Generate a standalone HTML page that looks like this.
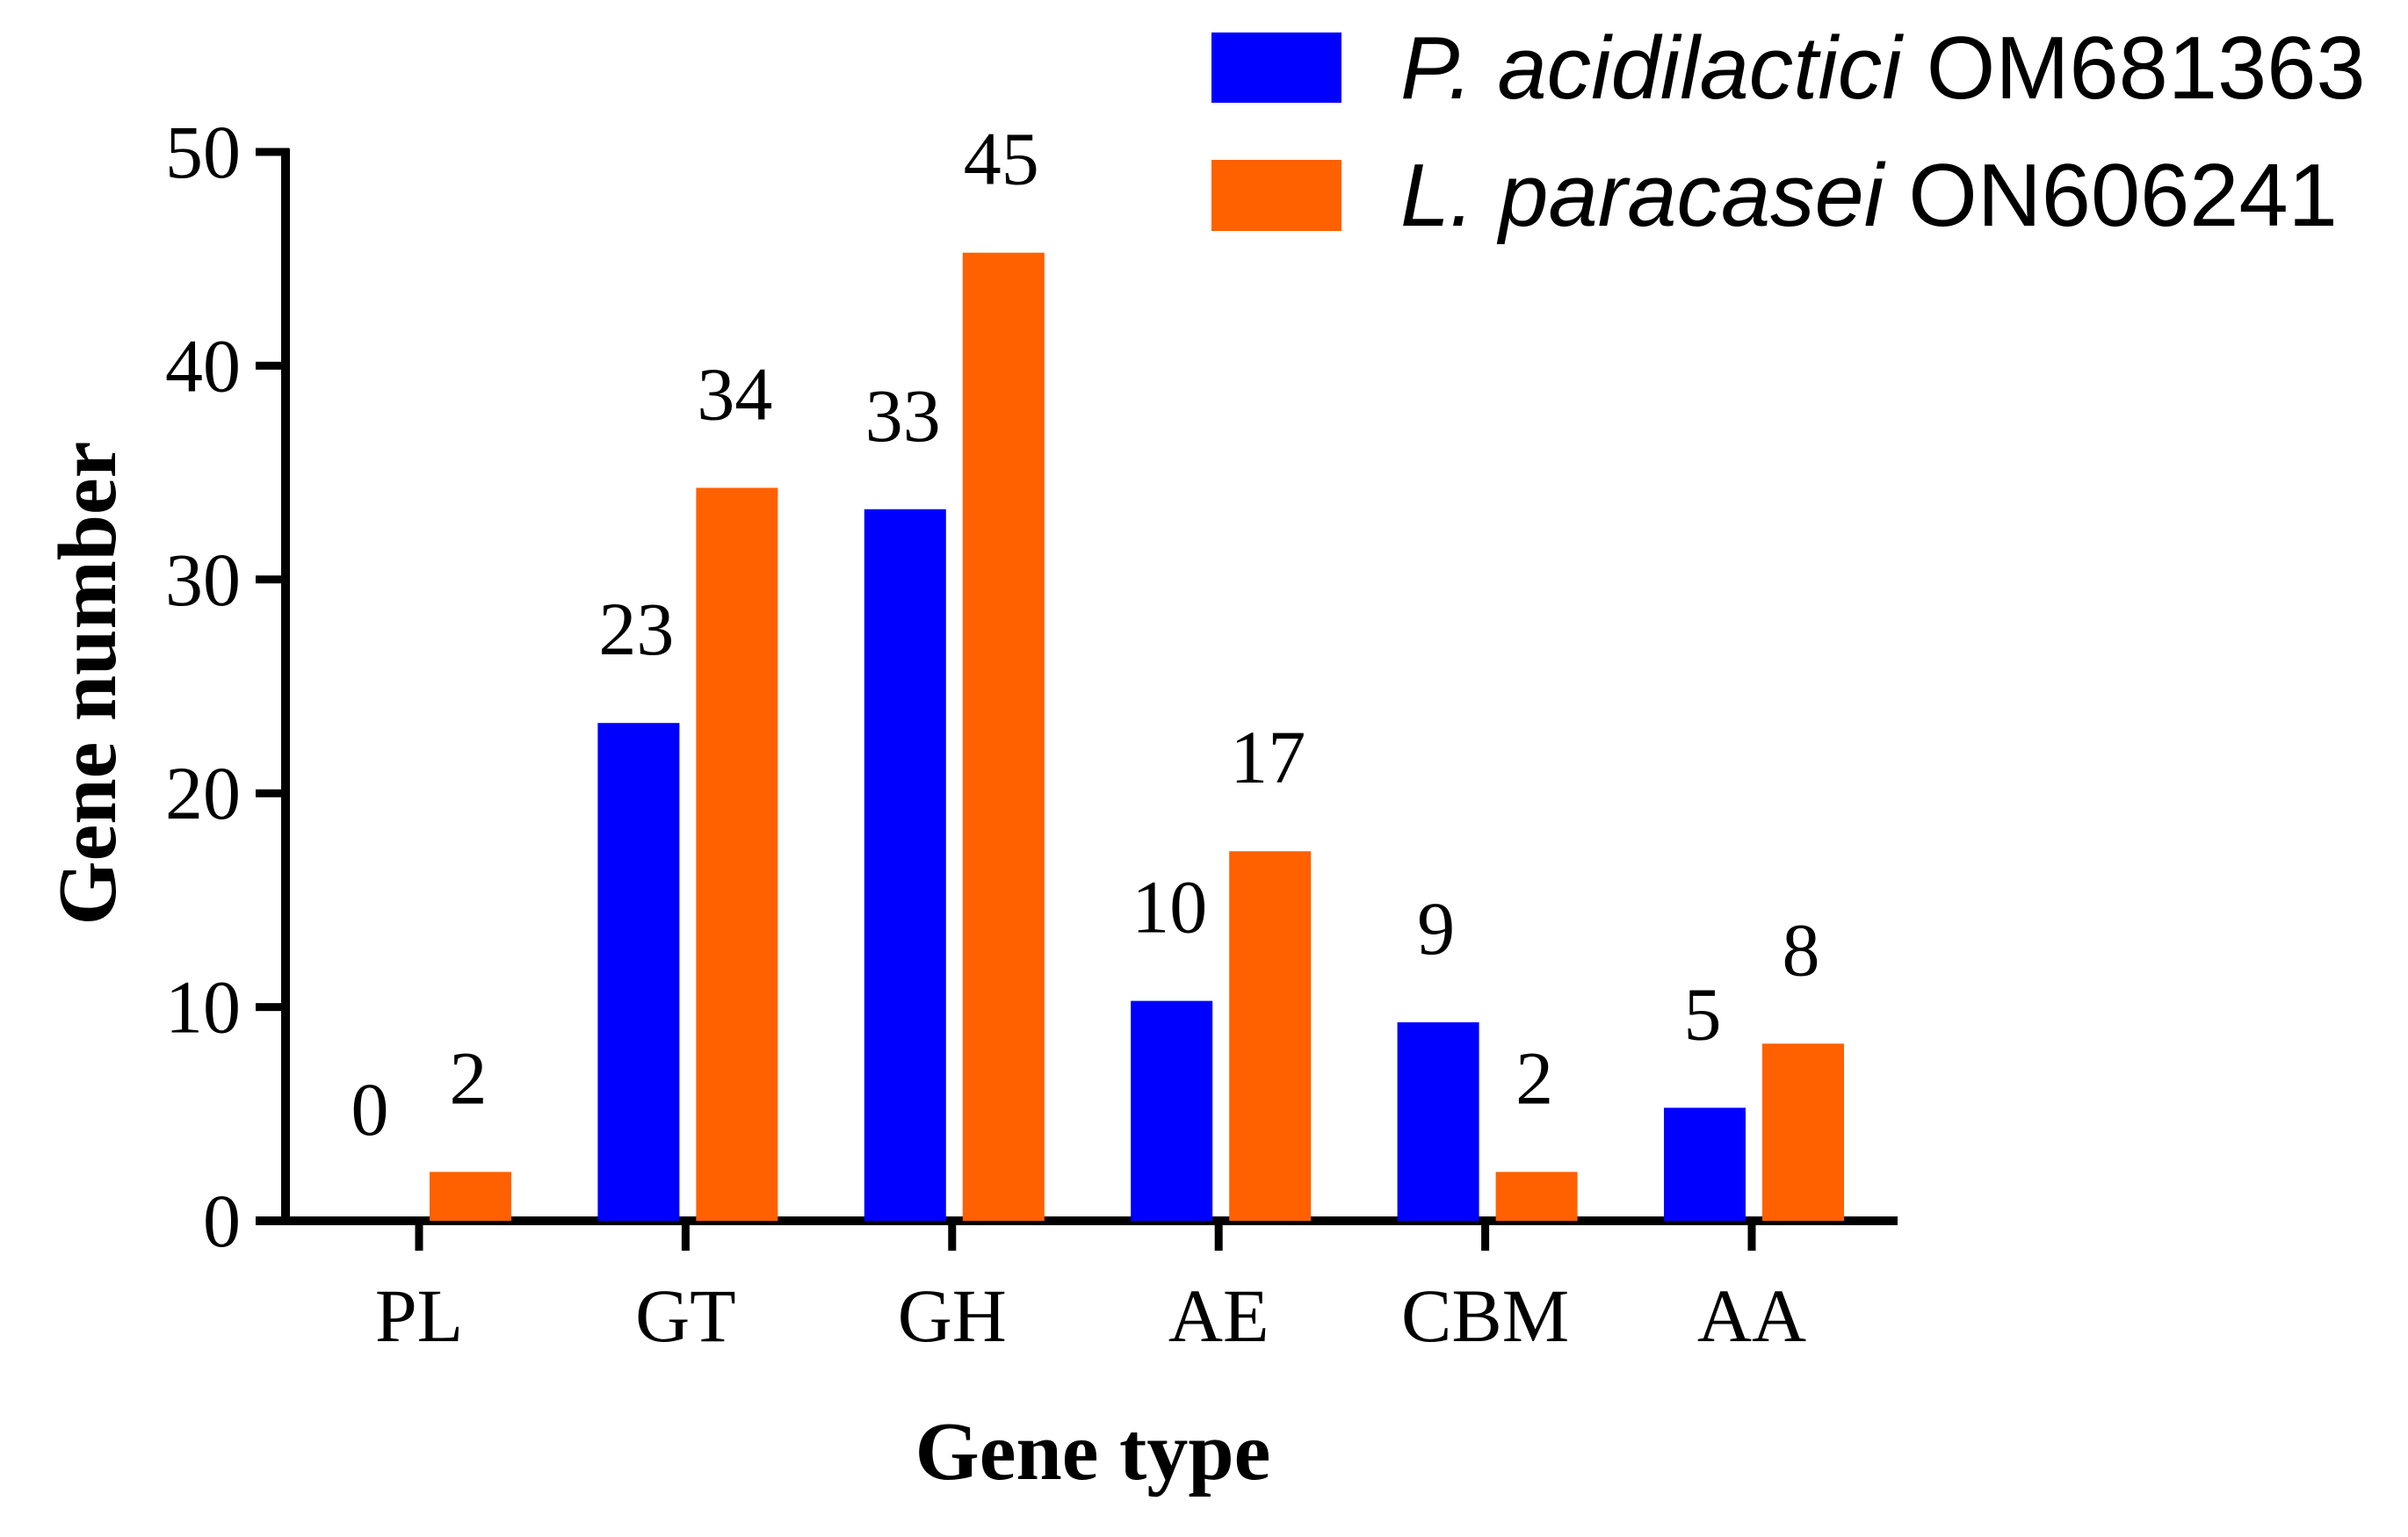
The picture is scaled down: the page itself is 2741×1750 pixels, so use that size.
<!DOCTYPE html>
<html><head><meta charset="utf-8"><style>
html,body{margin:0;padding:0;background:#fff;}
svg{display:block;}
</style></head><body>
<svg id="chart" width="2741" height="1750" viewBox="0 0 2741 1750" xmlns="http://www.w3.org/2000/svg">
<g id="axes"></g>
<g id="bars"></g>
<g id="labels"></g>
<text x="100" y="778" transform="rotate(-90 100 778)" text-anchor="middle" dominant-baseline="central" font-family="Liberation Serif, serif" font-weight="bold" font-size="94">Gene number</text>
<text x="1244" y="1684" text-anchor="middle" font-family="Liberation Serif, serif" font-weight="bold" font-size="94">Gene type</text>
<g>
<rect x="1379" y="37" width="148" height="80" fill="#0000ff"/>
<text x="1594" y="112" font-family="Liberation Sans, sans-serif" font-size="101"><tspan font-style="italic">P. acidilactici</tspan> OM681363</text>
<rect x="1379" y="182" width="148" height="81" fill="#ff6000"/>
<text x="1594" y="257" font-family="Liberation Sans, sans-serif" font-size="101"><tspan font-style="italic">L. paracasei</tspan> ON606241</text>
</g>
</svg>
<script>
const categories = ["PL","GT","GH","AE","CBM","AA"];
const seriesP = [0,23,33,10,9,5];
const seriesL = [2,34,45,17,2,8];
const yTicks = [0,10,20,30,40,50];

const NS = "http://www.w3.org/2000/svg";
const y0 = 1390, pxPerUnit = 24.34;
function yScale(v){ return y0 - v*pxPerUnit; }
function xScale(i){ return 477 + i*303.4; }
function mk(tag, attrs, parent, text){
  const e = document.createElementNS(NS, tag);
  for (const k in attrs) e.setAttribute(k, attrs[k]);
  if (text !== undefined) e.textContent = text;
  parent.appendChild(e);
  return e;
}
const axes = document.getElementById('axes');
const bars = document.getElementById('bars');
const labels = document.getElementById('labels');

yTicks.forEach(t => {
  const y = yScale(t);
  const tk = mk('line', {x1:291, x2:329, y1:y, y2:y, stroke:'#000','stroke-width':9}, axes);
  
  
  const lb = mk('text', {x:274, y:y+29, 'text-anchor':'end', 'font-family':'Liberation Serif, serif', 'font-size':86}, axes, String(t));
  
  
});
const ya = mk('line', {x1:325, x2:325, y1:yScale(50)-4, y2:y0+5, stroke:'#000','stroke-width':10}, axes);


const xa = mk('line', {x1:291, x2:2160, y1:y0, y2:y0, stroke:'#000','stroke-width':10}, axes);



categories.forEach((c, i) => {
  const x = xScale(i);
  const tk = mk('line', {x1:x, x2:x, y1:y0, y2:1424, stroke:'#000','stroke-width':9}, axes);
  
  
  const lb = mk('text', {x:x, y:1527, 'text-anchor':'middle', 'font-family':'Liberation Serif, serif', 'font-size':86}, axes, c);
  
  

  const vals = [seriesP[i], seriesL[i]];
  const lefts = [x - 100, x + 12];
  const cols = ['#0000ff', '#ff6000'];
  const names = ['p-acidilactici', 'l-paracasei'];
  vals.forEach((v, s) => {
    const top = yScale(v) - (v > 0 ? 7 : 0);
    if (v > 0) {
      const r = mk('rect', {x:lefts[s], y:top, width:93, height:y0 - top, fill:cols[s]}, bars);
      
      
    }
    const t = mk('text', {x:lefts[s] + 44, y:top - (v > 0 ? 78 : 98), 'text-anchor':'middle', 'font-family':'Liberation Serif, serif', 'font-size':86}, labels, String(v));
    
    
  });
});
</script>
</body></html>
